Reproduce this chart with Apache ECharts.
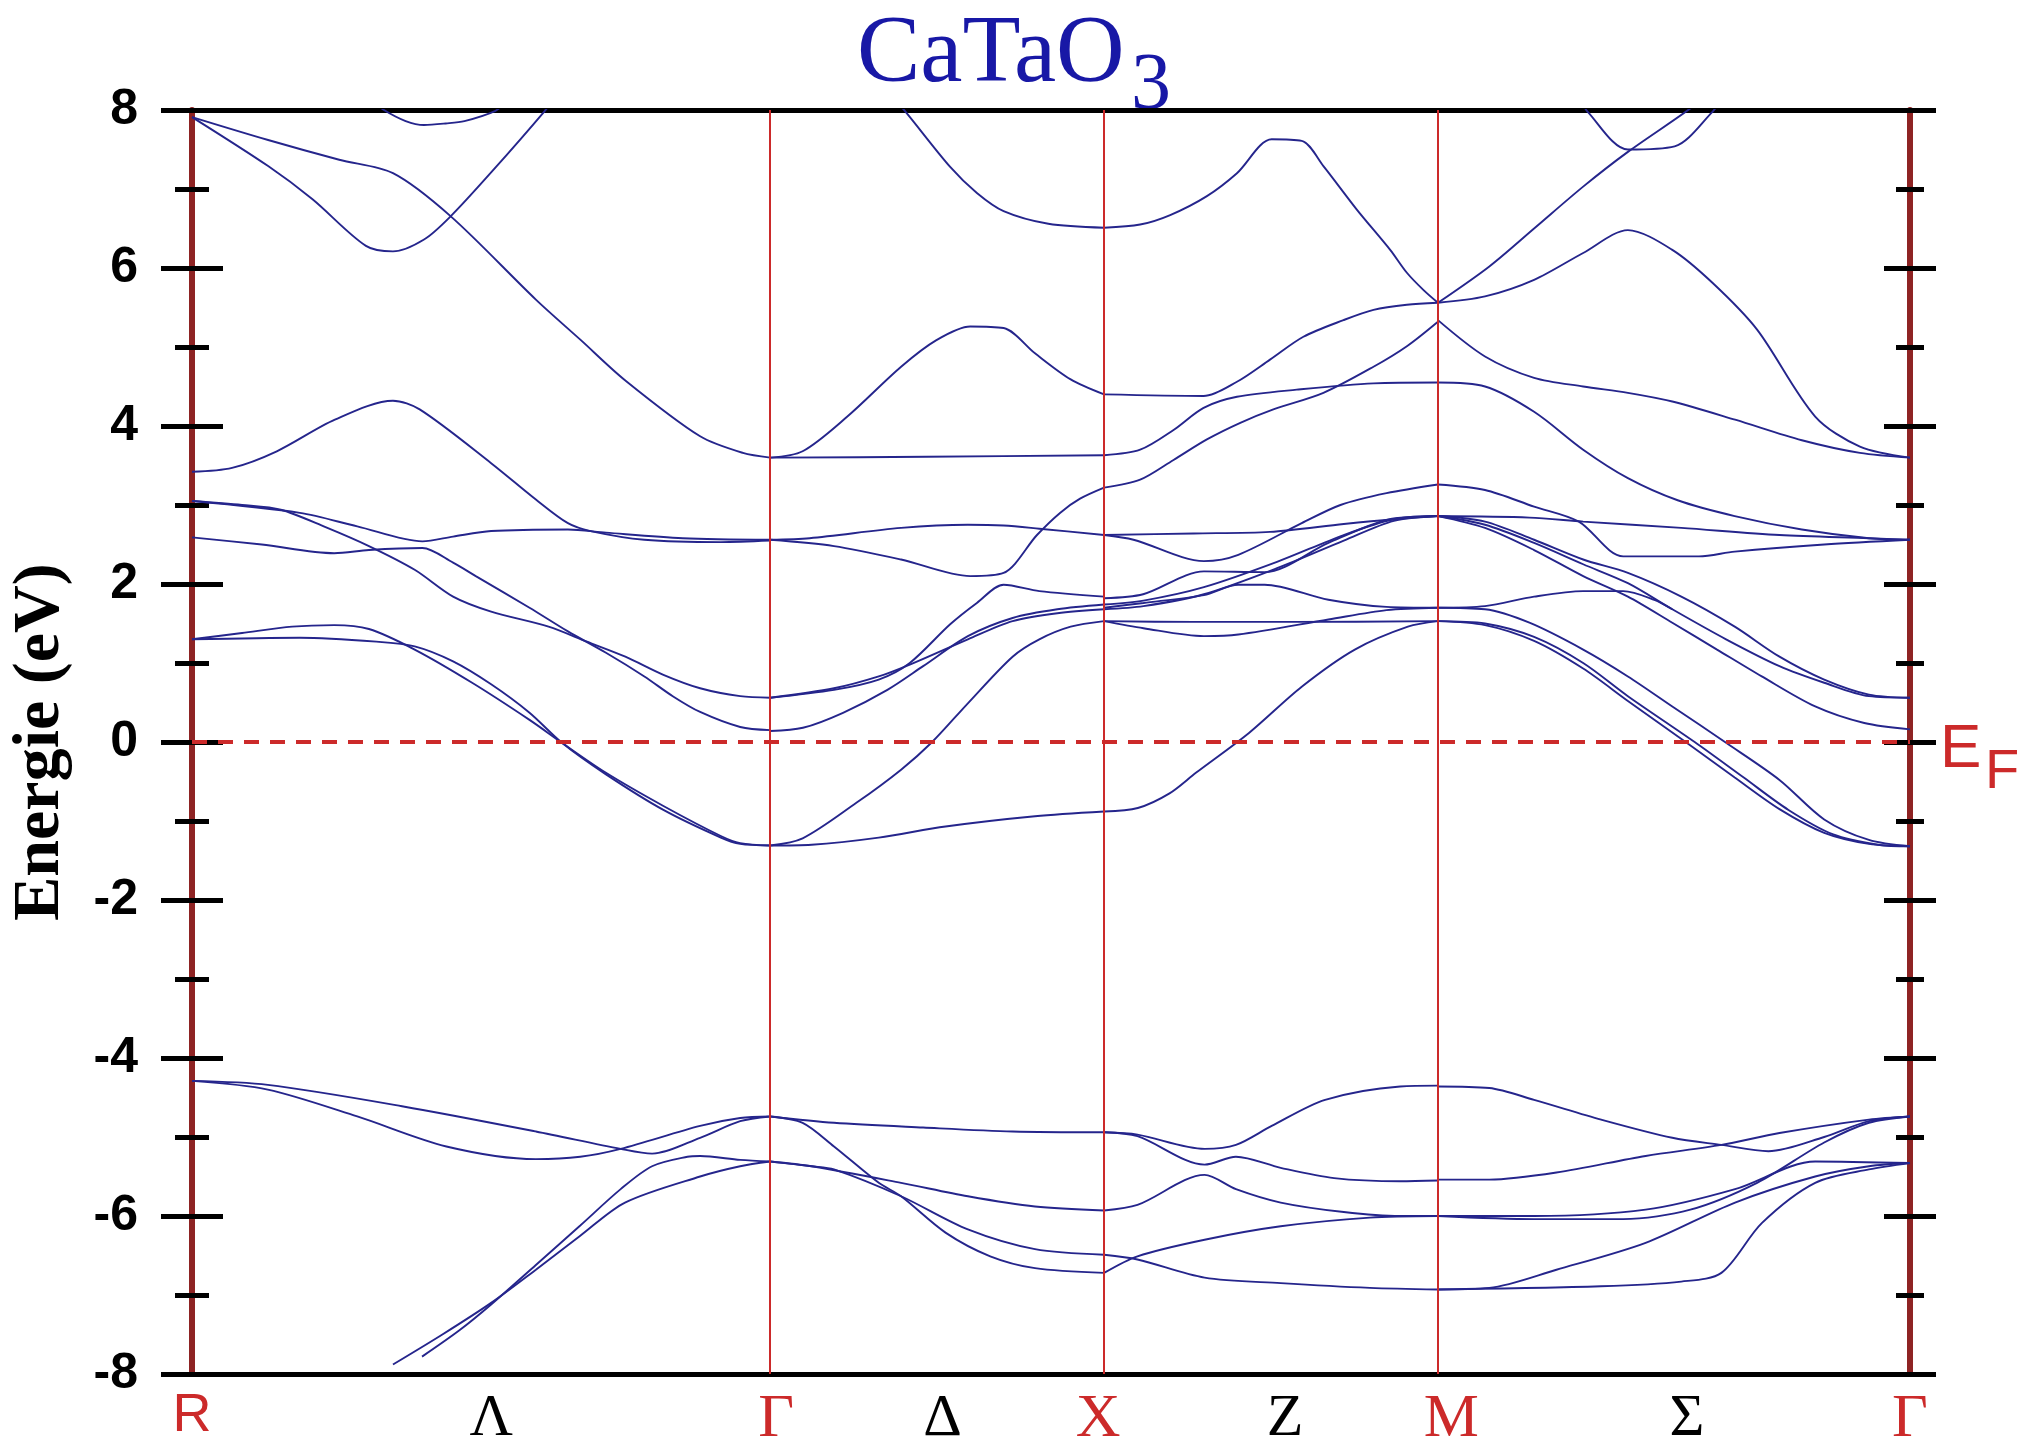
<!DOCTYPE html>
<html>
<head>
<meta charset="utf-8">
<script src="https://cdn.jsdelivr.net/npm/echarts@6/dist/echarts.min.js"></script>
<style>
  html, body { margin: 0; padding: 0; background: #ffffff; }
  #chart { width: 2033px; height: 1451px; }
</style>
</head>
<body>
<div id="chart"></div>
<script>
// Path R–Γ–X–M–Γ, distances in units of 2π/a (|RΓ| = √3, |ΓX| = |XM| = 1, |MΓ| = √2)
const kPoints = [0, 1.732, 2.732, 3.732, 5.146];
const kLabelPos = [0, 0.896, 1.75, 2.248, 2.714, 3.274, 3.772, 4.478, 5.146];
const kLabelNames = ['R', 'Λ', 'Γ', 'Δ', 'X', 'Z', 'M', 'Σ', 'Γ'];
const energyRange = [-8, 8];
const energyStep = 2;
const fermiLevel = 0;

// Bands along R–Γ  ([k, E in eV])
const rgBands = [
  [[0,7.91],[0.228,7.62],[0.441,7.37],[0.602,7.20],[0.776,6.65],[1.030,5.60],[1.164,5.09],[1.297,4.58],[1.522,3.87],[1.65,3.66],[1.732,3.60]],
  [[0,7.91],[0.228,7.29],[0.361,6.87],[0.521,6.28],[0.602,6.21],[0.695,6.36],[0.776,6.66],[0.896,7.21],[1.057,7.99],[1.11,8.28]],
  [[0.54,8.12],[0.575,8.0],[0.64,7.86],[0.695,7.81],[0.76,7.83],[0.816,7.86],[0.909,7.99],[0.94,8.1]],
  [[0,3.42],[0.120,3.47],[0.254,3.68],[0.428,4.08],[0.602,4.32],[0.682,4.21],[0.896,3.53],[1.030,3.07],[1.126,2.77],[1.194,2.67],[1.355,2.56],[1.584,2.53],[1.732,2.55]],
  [[0,3.05],[0.323,2.90],[0.495,2.73],[0.690,2.54],[0.782,2.60],[0.896,2.67],[1.126,2.69],[1.240,2.65],[1.470,2.58],[1.732,2.56]],
  [[0,3.05],[0.15,3.0],[0.266,2.94],[0.40,2.72],[0.530,2.48],[0.667,2.18],[0.782,1.84],[0.896,1.65],[1.068,1.46],[1.183,1.27],[1.298,1.08],[1.412,0.85],[1.522,0.68],[1.642,0.58],[1.732,0.56]],
  [[0,2.59],[0.209,2.50],[0.426,2.39],[0.530,2.43],[0.690,2.455],[0.782,2.27],[0.850,2.10],[1.011,1.70],[1.126,1.40],[1.240,1.13],[1.355,0.83],[1.440,0.58],[1.522,0.38],[1.642,0.19],[1.732,0.15]],
  [[0,1.30],[0.15,1.38],[0.30,1.46],[0.426,1.48],[0.530,1.43],[0.667,1.17],[0.839,0.75],[1.011,0.28],[1.108,-0.01],[1.240,-0.39],[1.412,-0.81],[1.584,-1.19],[1.642,-1.28],[1.732,-1.31]],
  [[0,1.30],[0.323,1.32],[0.552,1.27],[0.667,1.21],[0.782,1.02],[0.896,0.73],[1.011,0.37],[1.108,-0.01],[1.240,-0.41],[1.412,-0.86],[1.584,-1.21],[1.642,-1.29],[1.732,-1.31]],
  [[0,-4.29],[0.227,-4.34],[0.629,-4.61],[1.030,-4.93],[1.284,-5.15],[1.378,-5.21],[1.522,-5.01],[1.642,-4.80],[1.732,-4.74]],
  [[0,-4.29],[0.227,-4.40],[0.495,-4.74],[0.762,-5.12],[1.030,-5.28],[1.163,-5.25],[1.284,-5.15],[1.522,-4.86],[1.642,-4.76],[1.732,-4.74]],
  [[0.602,-7.88],[0.75,-7.50],[0.896,-7.10],[1.030,-6.68],[1.163,-6.25],[1.297,-5.83],[1.522,-5.50],[1.642,-5.37],[1.732,-5.31]],
  [[0.689,-7.78],[0.80,-7.45],[0.896,-7.12],[1.030,-6.62],[1.163,-6.12],[1.284,-5.66],[1.378,-5.37],[1.484,-5.25],[1.522,-5.24],[1.642,-5.29],[1.732,-5.31]]
];

// Bands along Γ–X
const gxBands = [
  [[2.097,8.17],[2.137,7.98],[2.271,7.28],[2.351,6.95],[2.431,6.72],[2.565,6.56],[2.732,6.51]],
  [[1.732,3.60],[1.829,3.68],[1.963,4.12],[2.124,4.75],[2.231,5.09],[2.331,5.26],[2.431,5.24],[2.525,4.92],[2.632,4.59],[2.732,4.40]],
  [[1.732,3.60],[2.2,3.61],[2.732,3.63]],
  [[1.732,2.56],[1.85,2.58],[2.124,2.71],[2.324,2.75],[2.431,2.74],[2.538,2.70],[2.732,2.62]],
  [[1.732,2.56],[1.923,2.48],[2.124,2.31],[2.331,2.10],[2.431,2.14],[2.531,2.62],[2.60,2.90],[2.66,3.08],[2.732,3.22]],
  [[1.732,0.56],[1.923,0.66],[2.057,0.79],[2.150,1.00],[2.271,1.49],[2.351,1.76],[2.431,1.99],[2.538,1.91],[2.732,1.84]],
  [[1.732,0.56],[1.923,0.68],[2.057,0.83],[2.150,0.98],[2.324,1.30],[2.458,1.53],[2.592,1.63],[2.732,1.68]],
  [[1.732,0.14],[1.83,0.18],[1.950,0.37],[2.083,0.66],[2.19,0.96],[2.324,1.34],[2.458,1.57],[2.592,1.68],[2.732,1.74]],
  [[1.732,-1.31],[1.829,-1.22],[1.990,-0.77],[2.124,-0.35],[2.217,0.0],[2.324,0.49],[2.458,1.08],[2.538,1.30],[2.632,1.46],[2.732,1.53]],
  [[1.732,-1.31],[1.856,-1.30],[2.057,-1.21],[2.257,-1.07],[2.525,-0.94],[2.732,-0.88]],
  [[1.732,-4.74],[1.923,-4.82],[2.190,-4.88],[2.458,-4.93],[2.732,-4.94]],
  [[1.732,-4.74],[1.829,-4.82],[1.923,-5.12],[2.057,-5.58],[2.124,-5.75],[2.257,-6.21],[2.391,-6.51],[2.525,-6.66],[2.732,-6.72]],
  [[1.732,-5.31],[1.856,-5.37],[1.923,-5.41],[2.124,-5.75],[2.324,-6.17],[2.525,-6.42],[2.732,-6.49]],
  [[1.732,-5.31],[1.856,-5.37],[2.124,-5.58],[2.324,-5.75],[2.525,-5.88],[2.732,-5.93]]
];

// Bands along X–M
const xmBands = [
  [[2.732,6.51],[2.840,6.55],[2.930,6.67],[3.040,6.91],[3.130,7.20],[3.234,7.63],[3.324,7.61],[3.389,7.29],[3.489,6.74],[3.589,6.23],[3.639,5.94],[3.689,5.72],[3.732,5.56]],
  [[2.732,4.40],[3.030,4.38],[3.130,4.56],[3.229,4.84],[3.329,5.13],[3.449,5.34],[3.539,5.47],[3.639,5.535],[3.732,5.56]],
  [[2.732,3.63],[2.840,3.70],[2.940,3.95],[3.030,4.23],[3.130,4.37],[3.309,4.46],[3.539,4.54],[3.732,4.55]],
  [[2.732,3.22],[2.840,3.32],[2.940,3.57],[3.040,3.83],[3.140,4.04],[3.239,4.21],[3.389,4.42],[3.539,4.75],[3.639,5.01],[3.732,5.32]],
  [[2.732,2.62],[3.0,2.64],[3.229,2.66],[3.45,2.76],[3.6,2.82],[3.732,2.86]],
  [[2.732,2.62],[2.820,2.56],[3.031,2.29],[3.134,2.37],[3.324,2.77],[3.44,3.0],[3.578,3.15],[3.732,3.26]],
  [[2.732,1.82],[2.849,1.87],[3.031,2.16],[3.213,2.15],[3.404,2.52],[3.578,2.81],[3.732,2.86]],
  [[2.732,1.74],[2.85,1.79],[3.031,1.96],[3.25,2.28],[3.45,2.62],[3.6,2.82],[3.732,2.86]],
  [[2.732,1.68],[2.85,1.72],[3.031,1.87],[3.25,2.20],[3.45,2.55],[3.6,2.80],[3.732,2.86]],
  [[2.732,1.70],[2.85,1.76],[3.031,1.86],[3.134,1.99],[3.213,1.99],[3.404,1.80],[3.578,1.71],[3.732,1.70]],
  [[2.732,1.53],[3.0,1.52],[3.3,1.52],[3.732,1.53]],
  [[2.732,1.53],[2.85,1.44],[3.031,1.34],[3.134,1.36],[3.404,1.55],[3.578,1.67],[3.732,1.70]],
  [[2.732,-0.88],[2.833,-0.835],[2.928,-0.65],[3.007,-0.39],[3.166,0.115],[3.324,0.70],[3.483,1.17],[3.642,1.46],[3.732,1.53]],
  [[2.732,-4.94],[2.832,-4.97],[3.033,-5.15],[3.127,-5.10],[3.234,-4.86],[3.394,-4.53],[3.619,-4.36],[3.732,-4.35]],
  [[2.732,-4.94],[2.832,-4.99],[3.033,-5.35],[3.127,-5.25],[3.261,-5.39],[3.421,-5.52],[3.619,-5.56],[3.732,-5.55]],
  [[2.732,-5.93],[2.832,-5.86],[3.033,-5.48],[3.127,-5.66],[3.261,-5.83],[3.45,-5.95],[3.619,-6.0],[3.732,-6.0]],
  [[2.732,-6.72],[2.832,-6.51],[3.033,-6.30],[3.261,-6.13],[3.528,-6.02],[3.732,-6.0]],
  [[2.732,-6.49],[2.832,-6.55],[3.033,-6.78],[3.261,-6.85],[3.528,-6.91],[3.732,-6.93]]
];

// Bands along M–Γ
const mgBands = [
  [[3.732,5.56],[3.886,6.02],[4.020,6.50],[4.167,7.03],[4.301,7.47],[4.488,8.02],[4.52,8.15]],
  [[4.16,8.12],[4.180,7.98],[4.301,7.50],[4.441,7.54],[4.555,7.98],[4.575,8.1]],
  [[3.732,5.56],[3.873,5.64],[4.020,5.85],[4.167,6.19],[4.301,6.48],[4.434,6.23],[4.555,5.81],[4.688,5.22],[4.862,4.12],[4.996,3.74],[5.146,3.60]],
  [[3.732,5.34],[3.873,4.88],[4.020,4.61],[4.167,4.50],[4.301,4.42],[4.434,4.31],[4.622,4.08],[4.822,3.82],[4.996,3.66],[5.146,3.60]],
  [[3.732,4.55],[3.873,4.50],[4.020,4.18],[4.167,3.70],[4.301,3.34],[4.450,3.06],[4.621,2.86],[4.822,2.69],[5.023,2.58],[5.146,2.56]],
  [[3.732,3.26],[3.873,3.19],[4.020,2.98],[4.154,2.79],[4.287,2.35],[4.514,2.35],[4.621,2.41],[4.889,2.50],[5.146,2.56]],
  [[3.732,2.86],[4.006,2.84],[4.167,2.79],[4.461,2.71],[4.755,2.62],[5.023,2.58],[5.146,2.56]],
  [[3.732,2.86],[3.873,2.79],[4.020,2.56],[4.167,2.31],[4.301,2.14],[4.461,1.84],[4.621,1.46],[4.755,1.08],[4.889,0.79],[5.023,0.60],[5.146,0.56]],
  [[3.732,2.86],[3.873,2.75],[4.020,2.52],[4.167,2.25],[4.301,2.01],[4.434,1.68],[4.595,1.30],[4.755,0.96],[4.889,0.75],[5.023,0.58],[5.146,0.56]],
  [[3.732,2.86],[3.873,2.71],[4.020,2.43],[4.167,2.10],[4.301,1.84],[4.434,1.51],[4.568,1.17],[4.702,0.83],[4.862,0.45],[5.009,0.24],[5.146,0.16]],
  [[3.732,1.70],[3.873,1.72],[4.020,1.84],[4.167,1.91],[4.287,1.91],[4.38,1.80],[4.434,1.68]],
  [[3.732,1.70],[3.873,1.68],[4.006,1.51],[4.167,1.17],[4.301,0.83],[4.434,0.45],[4.595,-0.01],[4.755,-0.48],[4.889,-0.98],[5.023,-1.24],[5.146,-1.32]],
  [[3.732,1.53],[3.873,1.48],[4.020,1.28],[4.167,0.93],[4.301,0.52],[4.474,0.0],[4.621,-0.45],[4.755,-0.85],[4.889,-1.15],[5.023,-1.29],[5.146,-1.32]],
  [[3.732,1.53],[3.873,1.50],[4.020,1.33],[4.167,1.0],[4.301,0.58],[4.501,0.0],[4.648,-0.45],[4.782,-0.86],[4.916,-1.17],[5.05,-1.30],[5.146,-1.32]],
  [[3.732,-4.36],[3.886,-4.38],[4.020,-4.53],[4.221,-4.78],[4.434,-5.01],[4.581,-5.10],[4.722,-5.18],[4.889,-5.0],[5.023,-4.80],[5.146,-4.74]],
  [[3.732,-5.54],[3.886,-5.54],[4.087,-5.45],[4.354,-5.24],[4.581,-5.10],[4.755,-4.95],[5.023,-4.78],[5.146,-4.74]],
  [[3.732,-6.0],[4.020,-6.04],[4.287,-6.04],[4.488,-5.92],[4.688,-5.58],[4.889,-5.07],[5.023,-4.82],[5.146,-4.74]],
  [[3.732,-6.0],[4.020,-6.00],[4.354,-5.92],[4.622,-5.66],[4.862,-5.31],[5.146,-5.33]],
  [[3.732,-6.93],[4.220,-6.89],[4.461,-6.83],[4.581,-6.72],[4.702,-6.09],[4.862,-5.58],[5.023,-5.41],[5.146,-5.33]],
  [[3.732,-6.93],[3.886,-6.91],[4.087,-6.68],[4.354,-6.34],[4.622,-5.83],[4.862,-5.50],[5.023,-5.37],[5.146,-5.33]]
];

const BAND_COLOR = '#25258c';
const RED = '#cc2a2a';
const FRAME_RED = '#8e2323';

const chart = echarts.init(document.getElementById('chart'), null, { renderer: 'canvas' });

const allBands = [].concat(rgBands, gxBands, xmBands, mgBands);
const series = allBands.map(function (pts) {
  return {
    type: 'line',
    data: pts,
    xAxisIndex: 0,
    yAxisIndex: 0,
    symbol: 'none',
    showSymbol: false,
    smooth: 0.3,
    clip: true,
    silent: true,
    z: 3,
    lineStyle: { color: BAND_COLOR, width: 1.9 }
  };
});

// vertical lines at the inner high-symmetry points and the Fermi level
series[0].markLine = {
  silent: true,
  symbol: ['none', 'none'],
  label: { show: false },
  animation: false,
  data: kPoints.slice(1, kPoints.length - 1).map(function (k) {
    return { xAxis: k, lineStyle: { color: RED, width: 2, type: 'solid' } };
  }).concat([
    { yAxis: fermiLevel, lineStyle: { color: RED, width: 4, type: [15, 11] } }
  ])
};

function yAxisDef(side, inside, showLine, tickLen, minorLen, withLabels) {
  return {
    type: 'value',
    position: side,
    min: energyRange[0],
    max: energyRange[1],
    interval: energyStep,
    splitLine: { show: false },
    axisLine: { show: showLine, onZero: false, lineStyle: { color: FRAME_RED, width: 6 } },
    axisTick: { show: true, inside: inside, length: tickLen, lineStyle: { color: '#000', width: 5 } },
    minorTick: { show: true, splitNumber: 2, length: minorLen, lineStyle: { color: '#000', width: 5 } },
    axisLabel: withLabels ? {
      show: true, margin: 54, color: '#000',
      fontFamily: 'Liberation Sans', fontWeight: 'bold', fontSize: 50
    } : { show: false },
    name: withLabels ? 'Energie (eV)' : '',
    nameLocation: 'middle',
    nameGap: 118,
    nameTextStyle: { fontFamily: 'Liberation Serif', fontWeight: 'bold', fontSize: 66, color: '#000' }
  };
}

const labelStyle = { R: 'rs', 'Γ': 'rr', X: 'rr', M: 'rr', 'Λ': 'bk', 'Δ': 'bk', Z: 'bk', 'Σ': 'bk' };

const option = {
  animation: false,
  backgroundColor: '#ffffff',
  grid: { left: 192, right: 123, top: 110, bottom: 77, containLabel: false, outerBoundsMode: 'none' },
  xAxis: [
    {
      type: 'value', position: 'bottom', min: kPoints[0], max: kPoints[kPoints.length - 1],
      splitLine: { show: false },
      axisLine: { show: true, onZero: false, lineStyle: { color: '#000', width: 5 } },
      axisTick: { show: false },
      axisLabel: {
        show: true,
        margin: 15,
        showMinLabel: true,
        showMaxLabel: true,
        customValues: kLabelPos,
        formatter: function (v) {
          let idx = 0;
          for (let i = 0; i < kLabelPos.length; i++) {
            if (Math.abs(kLabelPos[i] - v) < 1e-6) { idx = i; break; }
          }
          const name = kLabelNames[idx];
          return '{' + labelStyle[name] + '|' + name + '}';
        },
        rich: {
          rs: { fontFamily: 'Liberation Sans', fontSize: 54, color: RED },
          rr: { fontFamily: 'Liberation Serif', fontSize: 62, color: RED },
          bk: { fontFamily: 'Liberation Serif', fontSize: 60, color: '#000' }
        }
      }
    },
    {
      type: 'value', position: 'top', min: kPoints[0], max: kPoints[kPoints.length - 1],
      splitLine: { show: false },
      axisLine: { show: true, onZero: false, lineStyle: { color: '#000', width: 5 } },
      axisTick: { show: false },
      axisLabel: { show: false }
    }
  ],
  yAxis: [
    yAxisDef('left', false, true, 31, 17, true),
    yAxisDef('left', true, false, 31, 17, false),
    yAxisDef('right', false, true, 26, 14, false),
    yAxisDef('right', true, false, 26, 14, false)
  ],
  graphic: [
    { type: 'text', left: 857, top: 9, style: { text: 'CaTaO', font: '95px "Liberation Serif"', fill: '#1818a6' } },
    { type: 'text', left: 1131, top: 47, style: { text: '3', font: '80px "Liberation Serif"', fill: '#1818a6' } },
    { type: 'text', left: 1940, top: 719, style: { text: 'E', font: '62px "Liberation Sans"', fill: RED } },
    { type: 'text', left: 1985, top: 745, style: { text: 'F', font: '56px "Liberation Sans"', fill: RED } }
  ],
  series: series
};

chart.setOption(option);
</script>
</body>
</html>
